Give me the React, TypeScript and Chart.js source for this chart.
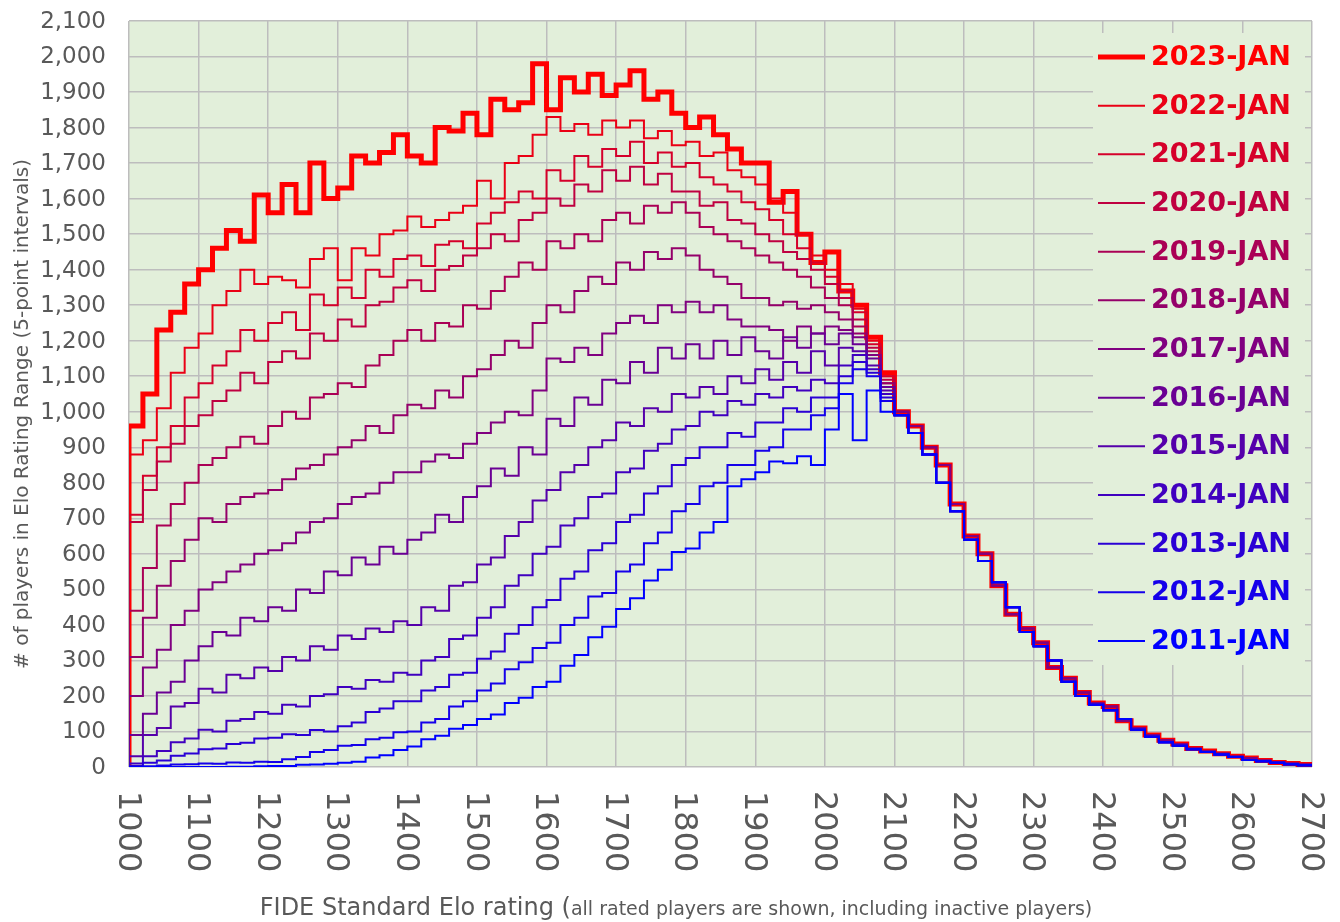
import React, { useEffect, useRef } from 'react';
import { Chart, registerables } from 'chart.js';

Chart.register(...registerables);

// Elo rating (bin start). The first 1000 carries the zero baseline of each curve.
const ELO = [
  1000, 1000, 1020, 1040, 1060, 1080, 1100, 1120, 1140, 1160, 1180, 1200, 1220, 1240, 1260, 1280,
  1300, 1320, 1340, 1360, 1380, 1400, 1420, 1440, 1460, 1480, 1500, 1520, 1540, 1560, 1580,
  1600, 1620, 1640, 1660, 1680, 1700, 1720, 1740, 1760, 1780, 1800, 1820, 1840, 1860, 1880,
  1900, 1920, 1940, 1960, 1980, 2000, 2020, 2040, 2060, 2080,
  2100, 2120, 2140, 2160, 2180, 2200, 2220, 2240, 2260, 2280, 2300, 2320, 2340, 2360, 2380,
  2400, 2420, 2440, 2460, 2480, 2500, 2520, 2540, 2560, 2580, 2600, 2620, 2640, 2660, 2680, 2700,
];

// values for 1000 .. 2080 (preceded by the 0 baseline)
const JAN_2023 = [0,
  960, 1050, 1230, 1280, 1360, 1400, 1460, 1510, 1480, 1610, 1560, 1640, 1560, 1700, 1600,
  1630, 1720, 1700, 1730, 1780, 1720, 1700, 1800, 1790, 1840, 1780, 1880, 1850, 1870, 1980,
  1850, 1940, 1900, 1950, 1890, 1920, 1960, 1880, 1900, 1840, 1800, 1830, 1780, 1740, 1700,
  1700, 1590, 1620, 1500, 1420, 1450, 1340, 1300, 1210, 1110];
const JAN_2022 = [0,
  880, 920, 1010, 1110, 1180, 1220, 1300, 1340, 1400, 1360, 1380, 1370, 1350, 1430, 1460,
  1370, 1460, 1440, 1500, 1510, 1550, 1520, 1540, 1560, 1580, 1650, 1600, 1700, 1720, 1780,
  1830, 1790, 1810, 1780, 1820, 1800, 1820, 1770, 1790, 1750, 1760, 1720, 1730, 1680, 1660,
  1640, 1600, 1560, 1500, 1440, 1400, 1360, 1290, 1200, 1100];
const JAN_2021 = [0,
  710, 820, 900, 960, 1040, 1080, 1130, 1170, 1230, 1200, 1250, 1280, 1230, 1330, 1300,
  1350, 1320, 1400, 1380, 1430, 1440, 1410, 1470, 1480, 1460, 1530, 1560, 1590, 1620, 1600,
  1680, 1650, 1720, 1690, 1740, 1720, 1760, 1700, 1730, 1690, 1700, 1660, 1640, 1620, 1590,
  1570, 1540, 1500, 1460, 1420, 1380, 1340, 1280, 1190, 1100];
const JAN_2020 = [0,
  690, 780, 860, 910, 960, 990, 1030, 1060, 1110, 1080, 1140, 1170, 1150, 1220, 1200,
  1260, 1240, 1300, 1310, 1350, 1370, 1340, 1400, 1410, 1440, 1460, 1500, 1480, 1540, 1560,
  1600, 1580, 1640, 1620, 1680, 1650, 1690, 1640, 1670, 1620, 1620, 1580, 1590, 1540, 1530,
  1500, 1480, 1450, 1430, 1400, 1360, 1320, 1260, 1180, 1090];
const JAN_2019 = [0,
  440, 560, 680, 740, 800, 850, 870, 900, 930, 910, 960, 1000, 980, 1040, 1050,
  1080, 1070, 1130, 1160, 1200, 1230, 1200, 1250, 1240, 1300, 1290, 1340, 1380, 1420, 1400,
  1480, 1460, 1500, 1480, 1540, 1560, 1530, 1580, 1560, 1590, 1560, 1520, 1500, 1480, 1460,
  1440, 1420, 1400, 1380, 1350, 1320, 1300, 1240, 1170, 1080];
const JAN_2018 = [0,
  310, 420, 510, 580, 640, 700, 690, 740, 760, 770, 780, 810, 840, 850, 880,
  900, 920, 960, 940, 990, 1020, 1010, 1060, 1040, 1100, 1120, 1160, 1200, 1180, 1250,
  1300, 1280, 1340, 1380, 1360, 1420, 1400, 1450, 1430, 1460, 1440, 1400, 1380, 1360, 1320,
  1320, 1300, 1310, 1290, 1300, 1280, 1260, 1220, 1160, 1080];
const JAN_2017 = [0,
  200, 280, 330, 400, 440, 500, 520, 550, 570, 600, 610, 630, 660, 690, 700,
  740, 760, 770, 800, 830, 830, 860, 880, 870, 910, 940, 970, 1000, 990, 1060,
  1150, 1140, 1180, 1160, 1220, 1250, 1270, 1250, 1300, 1280, 1310, 1280, 1300, 1260, 1240,
  1240, 1230, 1200, 1240, 1220, 1240, 1230, 1210, 1160, 1070];
const JAN_2016 = [0,
  90, 150, 210, 240, 300, 340, 380, 370, 420, 410, 450, 440, 500, 490, 550,
  540, 590, 570, 620, 600, 640, 660, 710, 690, 760, 790, 840, 820, 900, 880,
  980, 960, 1040, 1020, 1090, 1080, 1140, 1110, 1180, 1150, 1190, 1150, 1200, 1160, 1210,
  1170, 1150, 1210, 1180, 1220, 1190, 1220, 1190, 1150, 1070];
const JAN_2015 = [0,
  30, 90, 110, 170, 180, 220, 210, 260, 250, 280, 270, 310, 300, 340, 330,
  370, 360, 390, 380, 410, 400, 450, 440, 510, 520, 570, 590, 650, 690, 750,
  780, 830, 850, 900, 920, 970, 960, 1010, 1000, 1050, 1040, 1070, 1050, 1100, 1080,
  1120, 1090, 1140, 1110, 1170, 1130, 1180, 1170, 1130, 1060];
const JAN_2014 = [0,
  10, 30, 45, 70, 80, 105, 100, 130, 135, 155, 150, 175, 170, 200, 205,
  225, 220, 245, 240, 265, 260, 300, 310, 360, 370, 420, 450, 510, 540, 600,
  620, 680, 700, 760, 770, 830, 840, 890, 910, 950, 960, 1000, 990, 1030, 1020,
  1050, 1040, 1070, 1060, 1090, 1080, 1130, 1160, 1120, 1050];
const JAN_2013 = [0,
  3, 12, 18, 32, 38, 50, 52, 65, 68, 80, 82, 92, 90, 104, 100,
  115, 125, 155, 165, 185, 185, 215, 225, 260, 265, 305, 325, 375, 400, 450,
  470, 530, 550, 610, 630, 690, 710, 770, 790, 850, 870, 900, 900, 940, 930,
  970, 970, 1010, 1000, 1040, 1040, 1100, 1140, 1110, 1040];
const JAN_2012 = [0,
  0, 2, 4, 7, 8, 10, 9, 13, 12, 15, 14, 22, 28, 42, 48,
  60, 62, 78, 82, 98, 100, 125, 135, 170, 185, 215, 235, 275, 295, 335,
  350, 400, 420, 480, 490, 550, 570, 630, 660, 720, 740, 790, 800, 850, 850,
  890, 900, 950, 950, 990, 1010, 1080, 1120, 1100, 1030];
const JAN_2011 = [0,
  0, 0, 0, 0, 0, 0, 0, 1, 1, 2, 3, 3, 6, 7, 9,
  12, 15, 27, 33, 48, 58, 78, 88, 108, 118, 135, 148, 180, 195, 225,
  240, 285, 315, 365, 395, 445, 475, 525, 555, 605, 615, 660, 690, 790, 810,
  830, 860, 855, 875, 850, 950, 1050, 920, 1060, 1000];

// values for 2100 .. 2700, where the curves merge
const TAIL_RED = [
  1000, 960, 900, 850, 740, 650, 600, 510, 430, 390, 350, 280, 250, 210, 180,
  170, 130, 110, 90, 75, 65, 52, 45, 37, 30, 25, 18, 13, 10, 7, 4];
const TAIL_BLUE = [
  990, 940, 880, 800, 720, 640, 580, 520, 450, 380, 340, 300, 240, 200, 175,
  160, 135, 105, 85, 70, 60, 50, 42, 35, 28, 20, 16, 12, 8, 5, 3];

const SERIES_NAMES = ['2023-JAN', '2022-JAN', '2021-JAN', '2020-JAN', '2019-JAN', '2018-JAN', '2017-JAN',
  '2016-JAN', '2015-JAN', '2014-JAN', '2013-JAN', '2012-JAN', '2011-JAN'];
const SERIES_HEADS = [JAN_2023, JAN_2022, JAN_2021, JAN_2020, JAN_2019, JAN_2018, JAN_2017,
  JAN_2016, JAN_2015, JAN_2014, JAN_2013, JAN_2012, JAN_2011];
const SERIES_TAILS = [TAIL_RED, TAIL_RED, TAIL_RED, TAIL_RED, TAIL_RED, TAIL_RED, TAIL_RED,
  TAIL_BLUE, TAIL_BLUE, TAIL_BLUE, TAIL_BLUE, TAIL_BLUE, TAIL_BLUE];
const SERIES_COLORS = ['#FF0000', '#EA0015', '#D5002A', '#BF0040', '#AA0055', '#94006A', '#800080',
  '#6A0094', '#5500AA', '#4000BF', '#2A00D5', '#1500EA', '#0000FF'];

const X_TICKS = [1000, 1100, 1200, 1300, 1400, 1500, 1600, 1700, 1800, 1900, 2000, 2100, 2200, 2300, 2400, 2500, 2600, 2700];
const Y_TICKS = [0, 100, 200, 300, 400, 500, 600, 700, 800, 900, 1000, 1100, 1200, 1300, 1400, 1500, 1600, 1700, 1800, 1900, 2000, 2100];
const Y_TITLE = '# of players in Elo Rating Range (5-point intervals)';
const X_TITLE_BIG = 'FIDE Standard Elo rating (';
const X_TITLE_SMALL = 'all rated players are shown, including inactive players)';

const FONT = '"DejaVu Sans", Verdana, sans-serif';
const TEXT_GRAY = '#595959';
const PLOT_BG = '#E2EFDA';
const GRID = '#BDBDBD';

const fmt = (v: number) => v.toLocaleString('en-US');

const decor = {
  id: 'decor',
  beforeDraw(chart: any) {
    const { ctx, chartArea: a } = chart;
    ctx.save();
    ctx.fillStyle = '#FFFFFF';
    ctx.fillRect(0, 0, chart.width, chart.height);
    ctx.fillStyle = PLOT_BG;
    ctx.fillRect(a.left, a.top, a.right - a.left, a.bottom - a.top);
    ctx.restore();
  },
  beforeDatasetsDraw(chart: any) {
    const { ctx } = chart;
    ctx.save();
    ctx.fillStyle = PLOT_BG;
    ctx.fillRect(1093, 33, 212, 632);
    ctx.restore();
  },
  afterDraw(chart: any) {
    const { ctx } = chart;
    const xs = chart.scales.x;
    const ys = chart.scales.y;
    ctx.save();
    // y tick labels
    ctx.fillStyle = TEXT_GRAY;
    ctx.font = `23px ${FONT}`;
    ctx.textAlign = 'right';
    ctx.textBaseline = 'middle';
    Y_TICKS.forEach((v) => ctx.fillText(fmt(v), 106, ys.getPixelForValue(v) + 1));
    // x tick labels, rotated clockwise
    ctx.font = `32px ${FONT}`;
    ctx.textAlign = 'left';
    X_TICKS.forEach((v) => {
      ctx.save();
      ctx.translate(xs.getPixelForValue(v) - 2, 791);
      ctx.rotate(Math.PI / 2);
      ctx.fillText(String(v), 0, 0);
      ctx.restore();
    });
    // y title
    ctx.save();
    ctx.font = `20px ${FONT}`;
    ctx.textAlign = 'center';
    ctx.translate(23, 414);
    ctx.rotate(-Math.PI / 2);
    ctx.fillText(Y_TITLE, 0, 0);
    ctx.restore();
    // x title
    ctx.textBaseline = 'alphabetic';
    ctx.font = `24px ${FONT}`;
    const wBig = ctx.measureText(X_TITLE_BIG).width;
    ctx.font = `19px ${FONT}`;
    const wSmall = ctx.measureText(X_TITLE_SMALL).width;
    const startX = 676 - (wBig + wSmall) / 2;
    ctx.textAlign = 'left';
    ctx.font = `24px ${FONT}`;
    ctx.fillText(X_TITLE_BIG, startX, 915);
    ctx.font = `19px ${FONT}`;
    ctx.fillText(X_TITLE_SMALL, startX + wBig, 915);
    // legend
    ctx.font = `bold 27px ${FONT}`;
    ctx.textBaseline = 'middle';
    SERIES_NAMES.forEach((name, i) => {
      const y = 57 + i * 48.67;
      ctx.strokeStyle = SERIES_COLORS[i];
      ctx.lineWidth = i === 0 ? 5 : 2;
      ctx.beginPath();
      ctx.moveTo(1098, y);
      ctx.lineTo(1145, y);
      ctx.stroke();
      ctx.fillStyle = SERIES_COLORS[i];
      ctx.fillText(name, 1151, y + 1);
    });
    ctx.restore();
  },
};

export default function App() {
  const ref = useRef<HTMLCanvasElement>(null);
  useEffect(() => {
    const canvas = ref.current as HTMLCanvasElement;
    const datasets = SERIES_NAMES.map((name, i) => {
      const values = SERIES_HEADS[i].concat(SERIES_TAILS[i]);
      return {
        label: name,
        data: ELO.map((x, k) => ({ x, y: values[k] })),
        borderColor: SERIES_COLORS[i],
        backgroundColor: SERIES_COLORS[i],
        borderWidth: i === 0 ? 5 : 2,
        stepped: 'before' as const,
        pointRadius: 0,
        fill: false,
        order: SERIES_NAMES.length - i,
      };
    });
    const chart = new Chart(canvas, {
      type: 'line',
      data: { datasets },
      options: {
        animation: false,
        responsive: false,
        maintainAspectRatio: false,
        layout: { padding: { left: 129, right: 28, top: 21, bottom: 155 } },
        plugins: { legend: { display: false }, tooltip: { enabled: false } },
        elements: { point: { radius: 0 }, line: { tension: 0 } },
        scales: {
          x: {
            type: 'linear',
            min: 1000,
            max: 2700,
            ticks: { display: false, stepSize: 100 },
            grid: { color: GRID, lineWidth: 1.5, drawTicks: false },
            border: { display: false },
          },
          y: {
            min: 0,
            max: 2100,
            ticks: { display: false, stepSize: 100 },
            grid: { color: GRID, lineWidth: 1.5, drawTicks: false },
            border: { display: false },
          },
        },
      },
      plugins: [decor],
    });
    return () => chart.destroy();
  }, []);
  return (
    <div style={{ position: 'absolute', left: 0, top: 0, width: 1340, height: 922, background: '#fff' }}>
      <canvas ref={ref} width={1340} height={922} style={{ display: 'block', width: 1340, height: 922 }} />
    </div>
  );
}
